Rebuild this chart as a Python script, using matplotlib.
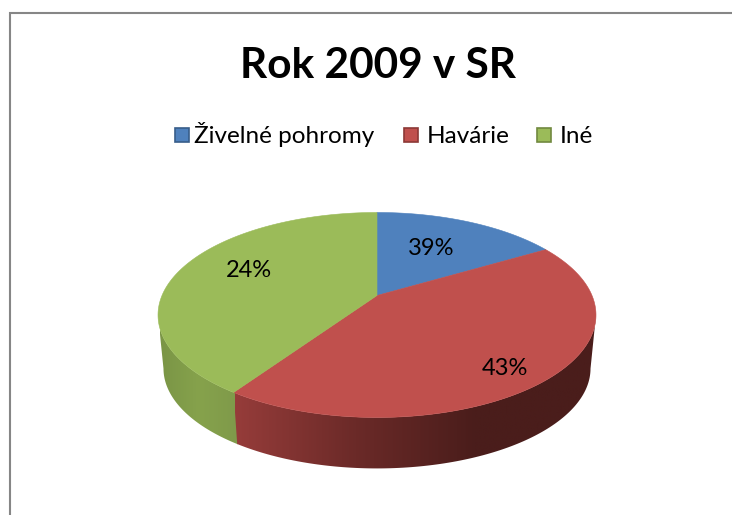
import numpy as np
import matplotlib
matplotlib.use('Agg')
import matplotlib.pyplot as plt
from matplotlib.patches import Polygon, Rectangle
from matplotlib.colors import LinearSegmentedColormap

plt.rcParams['font.family'] = ['Lato', 'DejaVu Sans']

title = 'Rok 2009 v SR'
categories = ['Živelné pohromy', 'Havárie', 'Iné']
# the printed labels do not agree with the drawn slice sizes in the original
slice_shares = [16.5, 43.0, 40.5]
printed_pct = [39, 43, 24]
colors = ['#4F81BD', '#C0504D', '#9BBB59']
edge_colors = ['#385D8A', '#8C3836', '#71893F']

# pie geometry in image pixels
cx, cy = 377, 295.5
k, a, b = 0.19, 98.8, 215
depth, shrink = 54, 0.975


def project(deg):
    # angle clockwise from 12 o'clock -> point on the tilted top face
    t = np.radians(deg)
    u, v = np.sin(t), np.cos(t)
    w = 1 + k * v
    return cx + b * u / w, cy - a * v / w


def project_low(deg):
    x, y = project(deg)
    return cx + shrink * (x - cx), cy + shrink * (y - cy) + depth


fig = plt.figure(figsize=(7.32, 5.15), dpi=100)
ax = fig.add_axes([0, 0, 1, 1])
ax.set_xlim(0, 732)
ax.set_ylim(515, 0)
ax.axis('off')

# chart frame, right and bottom side are cropped
ax.plot([9.5, 9.5, 732], [515, 12.5, 12.5], color='#868686', lw=1.5, solid_joinstyle='miter')

bounds = np.cumsum([0] + slice_shares) / np.sum(slice_shares) * 360

# side wall: green first, red on top so no gap shows at the seam
walls = [
    (bounds[2] - 2, 259, ['#7F9A4A', '#86A24C', '#7A9546'], (238, 160), 2),
    (101, bounds[2], ['#4A1D1B', '#4A1D1B', '#6B2A28', '#963C3A'], (596, 235), 3),
]
for start, end, ramp, x_range, z in walls:
    th = np.linspace(start, end, 120)
    xt, yt = project(th)
    xl, yl = project_low(th)
    poly = Polygon(np.r_[np.c_[xt, yt], np.c_[xl, yl][::-1]], closed=True, fc='none', ec='none')
    ax.add_patch(poly)
    cmap = LinearSegmentedColormap.from_list('wall', ramp)
    im = ax.imshow(np.linspace(0, 1, 256)[None, :], cmap=cmap, aspect='auto',
                   extent=(x_range[0], x_range[1], 480, 300), zorder=z)
    im.set_clip_path(poly)
ax.set_xlim(0, 732)
ax.set_ylim(515, 0)

# top face
for i in range(len(slice_shares)):
    th = np.linspace(bounds[i], bounds[i + 1], 150)
    xt, yt = project(th)
    pts = np.r_[[[cx, cy]], np.c_[xt, yt]]
    ax.add_patch(Polygon(pts, closed=True, fc=colors[i], ec=colors[i], lw=0.4, zorder=4))

ax.text(378, 78, title, ha='center', va='baseline', fontsize=30.5, fontweight='bold', color='black')

# legend
swatch_x = [175, 404, 537]
label_x = [194, 427, 560]
for i, cat in enumerate(categories):
    ax.add_patch(Rectangle((swatch_x[i], 128), 14, 14, fc=colors[i], ec=edge_colors[i], lw=1.2))
    ax.text(label_x[i], 143, cat, ha='left', va='baseline', fontsize=17.5)

# data labels
label_pos = [(431, 255), (505, 375), (249, 277)]
for pos, pct in zip(label_pos, printed_pct):
    ax.text(pos[0], pos[1], f'{pct}%', ha='center', va='baseline', fontsize=17, zorder=5)

fig.savefig('out.png', dpi=100)
